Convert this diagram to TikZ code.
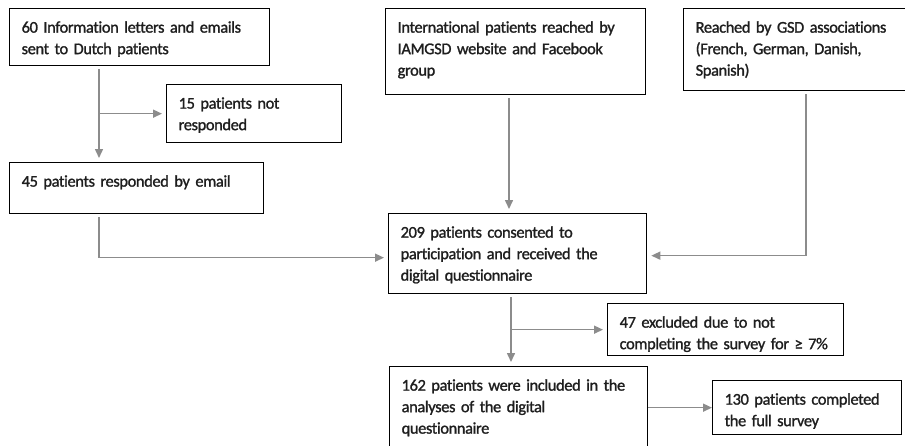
\documentclass[tikz,border=0pt]{standalone}
\usepackage{fontspec}
\setmainfont{Carlito}[Ligatures=CommonOff, FakeBold=1.3, LetterSpace=-2.2]
\usetikzlibrary{arrows.meta,positioning,calc}
\definecolor{arrowgray}{HTML}{8C8C8C}
\definecolor{textblack}{HTML}{1E1E1E}
\tikzset{
      arr/.style = {-{Triangle[length=9pt,width=8pt]}, line width=1.5pt, draw=arrowgray,
                    shorten <=3pt, shorten >=4pt},   % grey connectors
     base/.style = {draw, line width=1.3pt, anchor=north west, align=left,
                    inner xsep=12pt, inner ysep=10pt, text height=14pt,
                    font=\fontsize{16.4pt}{21.5pt}\selectfont, text=textblack},
  process/.style = {base, rectangle},
        }

\begin{document}
\begin{tikzpicture}[x=1pt,y=-1pt]
\useasboundingbox (0,0) rectangle (905,445);
% sources
\node[process, text width=236pt, text depth=23pt] (sent) at (9,8)
    {\mbox{60 Information letters and emails}\\sent to Dutch patients};
\node[process, text width=151pt, text depth=24pt] (nr) at (166,84)
    {15 patients not\\responded};
\node[process, text width=230pt, text depth=17pt] (resp) at (9,162)
    {45 patients responded by email};
\node[process, text width=236pt, text depth=52pt] (intl) at (385,8)
    {\mbox{International patients reached by}\\IAMGSD website and Facebook\\group};
\node[process, text width=203pt, text depth=48pt] (gsd) at (683,8)
    {Reached by GSD associations\\(French, German, Danish,\\Spanish)};
% flow
\node[process, text width=234pt, text depth=46pt] (cons) at (388,213)
    {209 patients consented to\\participation and received the\\digital questionnaire};
\node[process, text width=212pt, text depth=18pt] (excl) at (607,303)
    {47 excluded due to not\\\mbox{completing the survey for ≥~7\%}};
\node[process, text width=234pt, text depth=56pt] (incl) at (389,366)
    {\mbox{162 patients were included in the}\\analyses of the digital\\questionnaire};
\node[process, text width=165pt, text depth=20pt] (full) at (712,380)
    {130 patients completed\\the full survey};
% trunks
\coordinate (t1) at ([xshift=90pt]sent.south west);
\coordinate (t2) at ([xshift=124pt]intl.south west);
\coordinate (t3) at ([xshift=123pt]gsd.south west);
\coordinate (t4) at ([xshift=123pt]cons.south west);
\draw[arr] (t1) -- (t1 |- resp.north);
\draw[arr, shorten <=0pt] (t1 |- nr.west) -- (nr.west);
\draw[arr] (t1 |- resp.south) |- ([yshift=-4pt]cons.west);
\draw[arr] (t2) -- (t2 |- cons.north);
\draw[arr] (t3) |- ([yshift=-2pt]cons.east);
\draw[arr] (t4) -- (t4 |- incl.north);
\draw[arr, shorten <=0pt] (t4 |- excl.west) -- (excl.west);
\draw[arr, shorten <=0pt, shorten >=0pt] (incl.east |- full.west) -- (full.west);
\end{tikzpicture}
\end{document}
